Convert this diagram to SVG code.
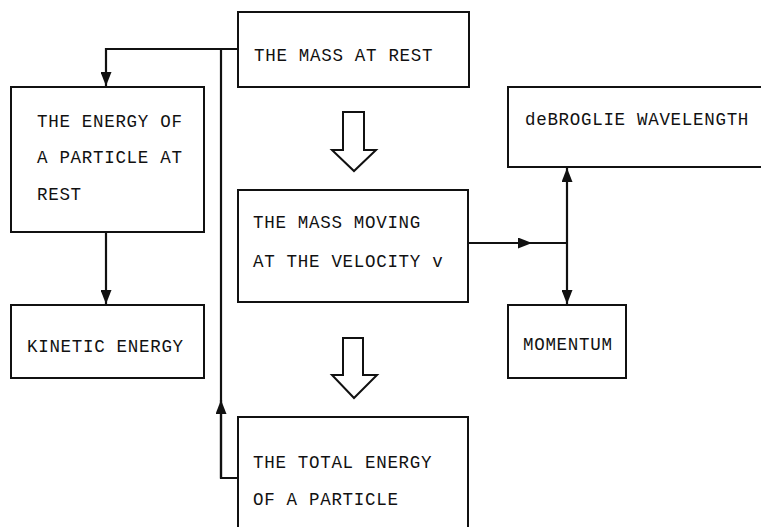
<svg xmlns="http://www.w3.org/2000/svg" width="761" height="527" viewBox="0 0 761 527">
<style>
.box{fill:#fff;stroke:#111;stroke-width:2}
.t{font-family:"Liberation Mono","Courier New",monospace;font-size:17.5px;letter-spacing:0.7px;fill:#111}
.ln{fill:none;stroke:#111;stroke-width:2.2}
.hollow{fill:#fff;stroke:#111;stroke-width:2;stroke-linejoin:miter}
</style>
<defs>
<marker id="ah" viewBox="0 0 14 11" refX="14" refY="5.5" markerWidth="14" markerHeight="11" markerUnits="userSpaceOnUse" orient="auto-start-reverse">
<path d="M0,0 L14,5.5 L0,11 Z" fill="#111"/>
</marker>
</defs>
<rect width="761" height="527" fill="#fff"/>
<g id="connectors">
<path class="ln" d="M238,49 H106 V86" marker-end="url(#ah)"/>
<path class="ln" d="M221,49 V478 H238"/>
<path class="ln" d="M221,478 V400" marker-end="url(#ah)"/>
<path class="ln" d="M106,232 V304" marker-end="url(#ah)"/>
<path class="ln" d="M468,243 H532" marker-end="url(#ah)"/>
<path class="ln" d="M530,243 H567"/>
<path class="ln" d="M567,168 V304" marker-start="url(#ah)" marker-end="url(#ah)"/>
<path class="hollow" d="M343,112 H364 V150 H376 L354,171 L332,150 H343 Z"/>
<path class="hollow" d="M343,338 H363 V375 H377 L354,398 L332,375 H343 Z"/>
</g>
<g id="mass-at-rest">
<rect class="box" x="238" y="12" width="231" height="75"/>
<text class="t" x="254" y="61">THE MASS AT REST</text>
</g>
<g id="energy-at-rest">
<rect class="box" x="11" y="87" width="193" height="145"/>
<text class="t" x="37" y="127">THE ENERGY OF</text>
<text class="t" x="37" y="163">A PARTICLE AT</text>
<text class="t" x="37" y="200">REST</text>
</g>
<g id="kinetic-energy">
<rect class="box" x="11" y="305" width="193" height="73"/>
<text class="t" x="27" y="352">KINETIC ENERGY</text>
</g>
<g id="mass-moving">
<rect class="box" x="238" y="190" width="230" height="112"/>
<text class="t" x="253" y="228">THE MASS MOVING</text>
<text class="t" x="253" y="267">AT THE VELOCITY v</text>
</g>
<g id="debroglie">
<rect class="box" x="508" y="87" width="262" height="80"/>
<text class="t" x="525" y="125">deBROGLIE WAVELENGTH</text>
</g>
<g id="momentum">
<rect class="box" x="508" y="305" width="118" height="73"/>
<text class="t" x="523" y="350">MOMENTUM</text>
</g>
<g id="total-energy">
<rect class="box" x="238" y="417" width="230" height="120"/>
<text class="t" x="253" y="468">THE TOTAL ENERGY</text>
<text class="t" x="253" y="505">OF A PARTICLE</text>
</g>
</svg>
